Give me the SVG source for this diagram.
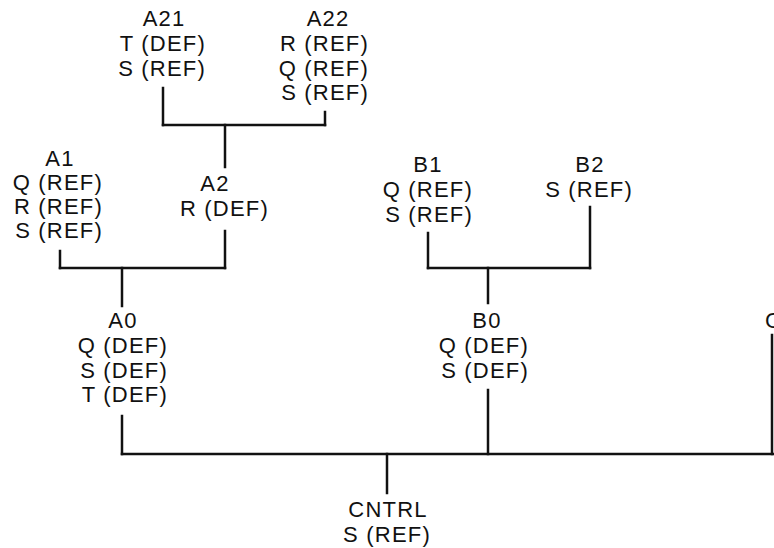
<svg xmlns="http://www.w3.org/2000/svg" width="774" height="548" viewBox="0 0 774 548">
<style>
text{font-family:"Liberation Sans",Arial,sans-serif;font-size:22px;letter-spacing:1.2px;fill:#111}
.t{text-anchor:middle}
.r{text-anchor:end}
.c line{stroke:#111;stroke-width:2.5;stroke-linecap:square}
</style>
<rect width="774" height="548" fill="#fff"/>
<g id="A21"><text class="t" x="164" y="26">A21</text><text class="r" x="206" y="51">T (DEF)</text><text class="r" x="206" y="76">S (REF)</text></g>
<g id="A22"><text class="t" x="328" y="26">A22</text><text class="r" x="369" y="51">R (REF)</text><text class="r" x="369" y="76">Q (REF)</text><text class="r" x="369" y="100">S (REF)</text></g>
<g id="A1"><text class="t" x="60" y="166">A1</text><text class="r" x="103" y="190">Q (REF)</text><text class="r" x="103" y="214">R (REF)</text><text class="r" x="103" y="238">S (REF)</text></g>
<g id="A2"><text class="t" x="215" y="191">A2</text><text class="r" x="269" y="216">R (DEF)</text></g>
<g id="B1"><text class="t" x="428" y="172">B1</text><text class="r" x="473" y="197">Q (REF)</text><text class="r" x="473" y="222">S (REF)</text></g>
<g id="B2"><text class="t" x="590" y="172">B2</text><text class="r" x="633" y="197">S (REF)</text></g>
<g id="A0"><text class="t" x="123" y="328">A0</text><text class="r" x="168" y="353">Q (DEF)</text><text class="r" x="168" y="378">S (DEF)</text><text class="r" x="168" y="402">T (DEF)</text></g>
<g id="B0"><text class="t" x="487" y="328">B0</text><text class="r" x="529" y="353">Q (DEF)</text><text class="r" x="529" y="378">S (DEF)</text></g>
<g id="C0"><text x="765" y="328">C</text></g>
<g id="CNTRL"><text class="t" x="388" y="517">CNTRL</text><text class="t" x="387" y="542">S (REF)</text></g>
<g id="connectors" class="c">
<line x1="163" y1="88" x2="163" y2="125"/><line x1="325" y1="112" x2="325" y2="125"/><line x1="163" y1="125" x2="325" y2="125"/><line x1="225" y1="125" x2="225" y2="167"/>
<line x1="60" y1="251" x2="60" y2="268"/><line x1="225" y1="231" x2="225" y2="268"/><line x1="60" y1="268" x2="225" y2="268"/><line x1="122" y1="268" x2="122" y2="306"/>
<line x1="428" y1="233" x2="428" y2="268"/><line x1="590" y1="207" x2="590" y2="268"/><line x1="428" y1="268" x2="590" y2="268"/><line x1="488" y1="268" x2="488" y2="303"/>
<line x1="122" y1="416" x2="122" y2="454"/><line x1="488" y1="390" x2="488" y2="454"/><line x1="772" y1="335" x2="772" y2="454"/><line x1="122" y1="454" x2="776" y2="454"/><line x1="387" y1="454" x2="387" y2="493"/>
</g>
</svg>
